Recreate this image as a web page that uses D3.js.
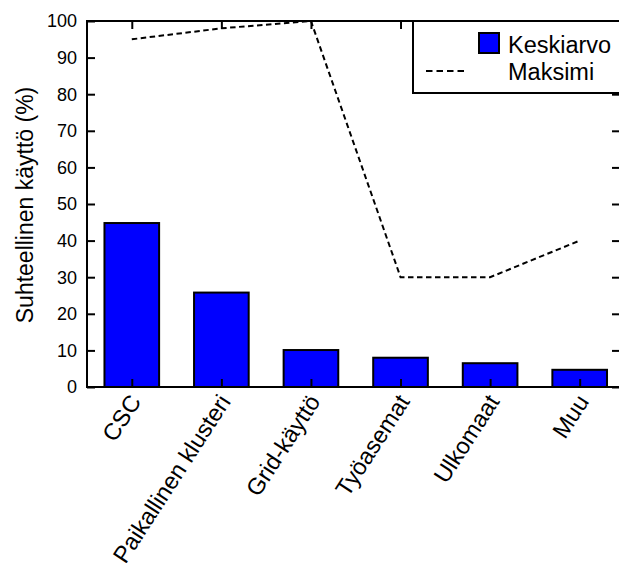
<!DOCTYPE html>
<html lang="fi">
<head>
    <meta charset="UTF-8">
    <title>Suhteellinen käyttö</title>
    <script src="https://d3js.org/d3.v7.min.js"></script>
    <style>
        body { margin: 0; background: #fff; }
        text { font-family: 'Liberation Sans', Arial, Helvetica, sans-serif; fill: #000; }
    </style>
</head>
<body>
    <div id="chart"></div>
    <script>
        // data
        const categories = ["CSC", "Paikallinen klusteri", "Grid-käyttö", "Työasemat", "Ulkomaat", "Muu"];
        const keskiarvo = [44.8, 25.8, 10.1, 8.0, 6.5, 4.7];
        const maksimi = [95, 98, 100, 30, 30, 40];
        const yTicks = [0, 10, 20, 30, 40, 50, 60, 70, 80, 90, 100];

        const W = 619, H = 563;
        const plotLeft = 87, plotRight = 620, plotTop = 21, plotBottom = 387;

        const svg = d3.select("#chart")
            .append("svg")
            .attr("width", W)
            .attr("height", H);

        const x = d3.scaleLinear()
            .domain([-0.5, 5.45])
            .range([plotLeft, plotRight]);
        const y = d3.scaleLinear()
            .domain([0, 100])
            .range([plotBottom, plotTop]);

        const barW = x(0.61) - x(0);

        // bars
        svg.selectAll("rect.bar")
            .data(keskiarvo)
            .join("rect")
            .attr("class", "bar")
            .attr("x", (d, i) => x(i) - barW / 2)
            .attr("y", d => y(d))
            .attr("width", barW)
            .attr("height", d => y(0) - y(d))
            .style("fill", "#0000ff")
            .style("stroke", "#000")
            .style("stroke-width", 2);

        // max line
        const line = d3.line()
            .x((d, i) => x(i))
            .y(d => y(d));
        svg.append("path")
            .datum(maksimi)
            .attr("d", line)
            .style("fill", "none")
            .style("stroke", "#000")
            .style("stroke-width", 2)
            .style("stroke-dasharray", "5.5,3.5");

        // axes, ticks inward
        const idx = d3.range(categories.length);
        svg.append("g")
            .attr("transform", `translate(${plotLeft},0)`)
            .call(d3.axisRight(y).tickValues(yTicks).tickSize(8).tickFormat(""));
        svg.append("g")
            .attr("transform", `translate(${plotRight},0)`)
            .call(d3.axisLeft(y).tickValues(yTicks).tickSize(8).tickFormat(""));
        svg.append("g")
            .attr("transform", `translate(0,${plotBottom})`)
            .call(d3.axisTop(x).tickValues(idx).tickSize(8).tickFormat(""));
        svg.append("g")
            .attr("transform", `translate(0,${plotTop})`)
            .call(d3.axisBottom(x).tickValues(idx).tickSize(8).tickFormat(""));
        svg.selectAll(".domain").remove();
        svg.selectAll(".tick line").style("stroke", "#000").style("stroke-width", 2);

        // y tick labels
        svg.selectAll("text.ylab")
            .data(yTicks)
            .join("text")
            .attr("class", "ylab")
            .attr("x", plotLeft - 10)
            .attr("y", d => y(d))
            .attr("dy", "0.36em")
            .attr("text-anchor", "end")
            .style("font-size", "18px")
            .text(d => d);

        // x labels, rotated
        svg.selectAll("text.xlab")
            .data(categories)
            .join("text")
            .attr("class", "xlab")
            .attr("transform", (d, i) => `translate(${x(i) + 3},${plotBottom + 10}) rotate(-57)`)
            .attr("dy", "0.36em")
            .attr("text-anchor", "end")
            .style("font-size", "23.5px")
            .text(d => d);

        // y title
        svg.append("text")
            .attr("transform", `translate(33,205) rotate(-90)`)
            .attr("text-anchor", "middle")
            .style("font-size", "23px")
            .text("Suhteellinen käyttö (%)");

        // legend box
        svg.append("rect")
            .attr("x", 413)
            .attr("y", plotTop)
            .attr("width", 230)
            .attr("height", 72)
            .style("fill", "#fff")
            .style("stroke", "#000")
            .style("stroke-width", 2);
        svg.append("rect")
            .attr("x", 479)
            .attr("y", 33)
            .attr("width", 20)
            .attr("height", 20)
            .style("fill", "#0000ff")
            .style("stroke", "#000")
            .style("stroke-width", 2);
        svg.append("line")
            .attr("x1", 426).attr("x2", 464)
            .attr("y1", 71).attr("y2", 71)
            .style("stroke", "#000")
            .style("stroke-width", 2)
            .style("stroke-dasharray", "6.5,4");
        svg.append("text").attr("x", 508).attr("y", 53).style("font-size", "23.5px").text("Keskiarvo");
        svg.append("text").attr("x", 508).attr("y", 80).style("font-size", "23.5px").text("Maksimi");

        // plot frame
        svg.append("rect")
            .attr("x", plotLeft)
            .attr("y", plotTop)
            .attr("width", plotRight - plotLeft)
            .attr("height", plotBottom - plotTop)
            .style("fill", "none")
            .style("stroke", "#000")
            .style("stroke-width", 2);
    </script>
</body>
</html>
